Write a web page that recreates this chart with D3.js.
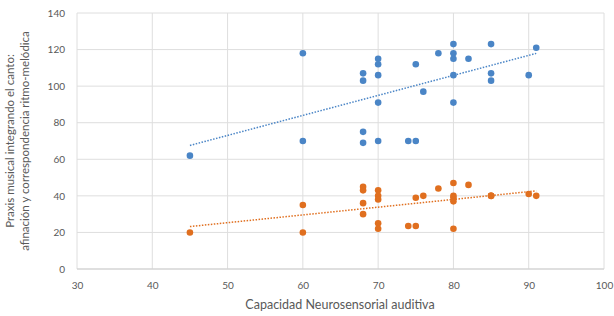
<!DOCTYPE html>
<meta charset="utf-8">
<head>
    <script src="https://d3js.org/d3.v7.min.js"></script>
    <style>
        body { margin: 0; background: #fff; }
        text { font-family: Lato, "Open Sans", sans-serif; fill: #595959; }
    </style>
</head>
<body>
    <div id="svg-container"></div>
</body>
<script>

const width = 614;
const height = 316;
const margin = { top: 13, right: 10, bottom: 47, left: 77 };

// Capacidad Neurosensorial auditiva (same subjects for both series)
const xValues = [45, 60, 60, 68, 68, 68, 68, 70, 70, 70, 70, 70, 74, 75, 75, 76, 78,
                 80, 80, 80, 80, 80, 82, 85, 85, 85, 90, 91];
const blueValues = [62, 118, 70, 107, 103, 75, 69, 115, 112, 106, 91, 70, 70, 70, 112, 97, 118,
                    123, 118, 115, 106, 91, 115, 123, 107, 103, 106, 121];
const orangeValues = [20, 35, 20, 45, 43, 36, 30, 43, 40, 38, 25, 22, 23.5, 23.5, 39, 40, 44,
                      47, 40, 39, 37, 22, 46, 40, 40, 40, 41, 40];

const xTicks = [30, 40, 50, 60, 70, 80, 90, 100];
const yTicks = [0, 20, 40, 60, 80, 100, 120, 140];

const seriesColors = ["#4a85c6", "#e06f1f"];

const svg = d3.select("#svg-container")
              .append("svg")
                .attr("width", width)
                .attr("height", height);

const x = d3.scaleLinear().domain([30, 100]).range([margin.left, width - margin.right]);
const y = d3.scaleLinear().domain([0, 140]).range([height - margin.bottom, margin.top]);

// grid
svg.append("g")
    .selectAll("line")
    .data(yTicks).enter()
    .append("line")
        .attr("x1", x(30)).attr("x2", x(100))
        .attr("y1", function(d) { return y(d); })
        .attr("y2", function(d) { return y(d); })
        .attr("stroke", "#dedede");

svg.append("g")
    .selectAll("line")
    .data(xTicks).enter()
    .append("line")
        .attr("y1", y(0)).attr("y2", y(140))
        .attr("x1", function(d) { return x(d); })
        .attr("x2", function(d) { return x(d); })
        .attr("stroke", "#dedede");

// axes
const xAxis = svg.append("g")
    .attr("transform", `translate(0,${y(0)})`)
    .call(d3.axisBottom(x).tickValues(xTicks).tickSize(0).tickPadding(13));
const yAxis = svg.append("g")
    .attr("transform", `translate(${x(30)},0)`)
    .call(d3.axisLeft(y).tickValues(yTicks).tickSize(0).tickPadding(12));

[xAxis, yAxis].forEach(function(a) {
    a.select(".domain").remove();
    a.selectAll("text").style("font-size", "10px").attr("fill", "#595959");
});
svg.append("line")
    .attr("x1", x(30)).attr("x2", x(100))
    .attr("y1", y(0)).attr("y2", y(0))
    .attr("stroke", "#cfcfcf");

// trend lines (least squares)
function fit(xs, ys) {
    const mx = d3.mean(xs), my = d3.mean(ys);
    const b = d3.sum(xs, function(v, i) { return (v - mx) * (ys[i] - my); }) /
              d3.sum(xs, function(v) { return (v - mx) * (v - mx); });
    return function(v) { return my + b * (v - mx); };
}

const xMin = d3.min(xValues), xMax = d3.max(xValues);
[blueValues, orangeValues].forEach(function(vals, k) {
    const f = fit(xValues, vals);
    svg.append("line")
        .attr("x1", x(xMin)).attr("y1", y(f(xMin)))
        .attr("x2", x(xMax)).attr("y2", y(f(xMax)))
        .attr("stroke", seriesColors[k])
        .attr("stroke-width", 1.5)
        .attr("stroke-dasharray", "1.5,1.5");
});

// points
[blueValues, orangeValues].forEach(function(vals, k) {
    svg.append("g")
        .selectAll("circle")
        .data(vals).enter()
        .append("circle")
            .attr("cx", function(d, i) { return x(xValues[i]); })
            .attr("cy", function(d) { return y(d); })
            .attr("r", 3.3)
            .attr("fill", seriesColors[k]);
});

// titles
svg.append("text")
    .attr("x", 340)
    .attr("y", 309)
    .attr("text-anchor", "middle")
    .style("font-size", "12.5px")
    .text("Capacidad Neurosensorial auditiva");

const yTitle = svg.append("text")
    .attr("transform", `translate(0,${(y(0) + y(140)) / 2}) rotate(-90)`)
    .attr("text-anchor", "middle")
    .style("font-size", "11.5px");
yTitle.append("tspan").attr("x", 0).attr("y", 14).text("Praxis musical integrando el canto:");
yTitle.append("tspan").attr("x", 0).attr("y", 29).text("afinación y correspondencia ritmo-melódica");

</script>
